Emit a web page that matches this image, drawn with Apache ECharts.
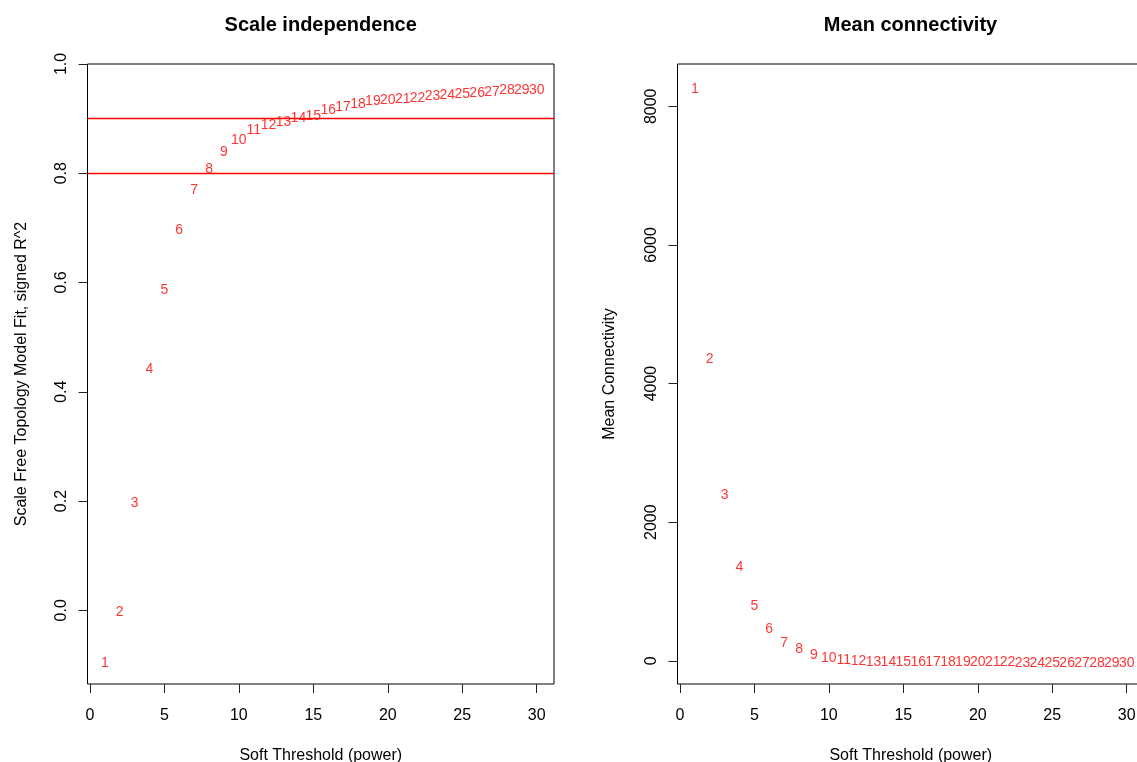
<!DOCTYPE html>
<html>
<head>
<meta charset="utf-8">
<script src="https://cdn.jsdelivr.net/npm/echarts@6/dist/echarts.min.js"></script>
<style>
html,body{margin:0;padding:0;background:#fff;}
#chart{width:1137px;height:762px;}
</style>
</head>
<body>
<div id="chart"></div>
<script>
// ---- data ----
var powers = [1,2,3,4,5,6,7,8,9,10,11,12,13,14,15,16,17,18,19,20,21,22,23,24,25,26,27,28,29,30];
var signedR2 = [-0.093,0.001,0.199,0.445,0.589,0.700,0.772,0.812,0.842,0.865,0.882,0.892,0.898,0.905,0.909,0.920,0.925,0.931,0.936,0.938,0.939,0.941,0.944,0.947,0.949,0.950,0.953,0.955,0.955,0.956];
var meanK = [8271,4384,2423,1376,821,492,290,193,111,63,34,22,15,11,8,6,5,4,3.5,3,2.5,2.2,2,1.7,1.5,1.3,1.2,1.1,1.0,0.9];
var cutLines = [0.9, 0.8];
var xTicks = [0,5,10,15,20,25,30];
var yTicksLeft = [0,0.2,0.4,0.6,0.8,1.0];
var yTicksRight = [0,2000,4000,6000,8000];
var titles = ['Scale independence','Mean connectivity'];
var xName = 'Soft Threshold (power)';
var yNames = ['Scale Free Topology Model Fit, signed R^2','Mean Connectivity'];

var FONT = '"Liberation Sans", Arial, sans-serif';
var RED = '#ff0000';
var chart = echarts.init(document.getElementById('chart'), null, {renderer:'canvas'});

function pairs(xs, ys){ return xs.map(function(x,i){ return [x, ys[i]]; }); }

function xAxisDef(idx){
  return {
    type:'value', gridIndex:idx, min:-0.16, max:31.16,
    splitLine:{show:false}, axisLine:{show:false, onZero:false},
    axisTick:{show:true, inside:false, length:9, lineStyle:{color:'#222', width:1}, customValues:xTicks},
    axisLabel:{show:true, margin:24, color:'#000', fontSize:16, fontFamily:FONT, customValues:xTicks},
    name:xName, nameLocation:'middle', nameGap:64,
    nameTextStyle:{color:'#000', fontSize:16, fontFamily:FONT}
  };
}
function yAxisDef(idx, mn, mx, ticks, nm, gap){
  return {
    type:'value', gridIndex:idx, min:mn, max:mx,
    splitLine:{show:false}, axisLine:{show:false, onZero:false},
    axisTick:{show:true, inside:false, length:9, lineStyle:{color:'#222', width:1}, customValues:ticks},
    axisLabel:{show:true, rotate:90, margin:18, color:'#000', fontSize:16, fontFamily:FONT, customValues:ticks,
      formatter:function(v){ return idx===0 ? v.toFixed(1) : String(v); }},
    name:nm, nameLocation:'middle', nameRotate:90, nameGap:gap,
    nameTextStyle:{color:'#000', fontSize:16, fontFamily:FONT}
  };
}
function labelSeries(idx, data){
  return {
    type:'scatter', xAxisIndex:idx, yAxisIndex:idx,
    data:data, symbolSize:1, itemStyle:{color:'rgba(0,0,0,0)'},
    silent:true, clip:false,
    label:{show:true, position:'inside', offset:[0,2], color:RED, fontSize:14, fontFamily:FONT,
      formatter:function(p){ return String(p.value[0]); }},
    emphasis:{disabled:true}
  };
}

var s0 = labelSeries(0, pairs(powers, signedR2));
s0.markLine = {
  silent:true, symbol:['none','none'], label:{show:false},
  lineStyle:{color:RED, width:1.4, type:'solid', opacity:1},
  emphasis:{disabled:true},
  data: cutLines.map(function(v){ return {yAxis:v}; })
};

var option = {
  backgroundColor:'#fff',
  animation:false,
  grid:[
    {left:87.5, top:64, width:466.5, height:620, show:true, borderColor:'#000', borderWidth:1, backgroundColor:'transparent', containLabel:false, outerBoundsMode:'none'},
    {left:677.5, top:64, width:466.5, height:620, show:true, borderColor:'#000', borderWidth:1, backgroundColor:'transparent', containLabel:false, outerBoundsMode:'none'}
  ],
  xAxis:[xAxisDef(0), xAxisDef(1)],
  yAxis:[
    yAxisDef(0, -0.135, 1.0, yTicksLeft, yNames[0], 58),
    yAxisDef(1, -335, 8610, yTicksRight, yNames[1], 60)
  ],
  series:[s0, labelSeries(1, pairs(powers, meanK))],
  graphic:[
    {type:'text', x:320.7, y:25, style:{text:titles[0], textAlign:'center', textVerticalAlign:'middle', fill:'#000', font:'bold 20px ' + FONT}},
    {type:'text', x:910.5, y:25, style:{text:titles[1], textAlign:'center', textVerticalAlign:'middle', fill:'#000', font:'bold 20px ' + FONT}}
  ]
};
chart.setOption(option);
</script>
</body>
</html>
